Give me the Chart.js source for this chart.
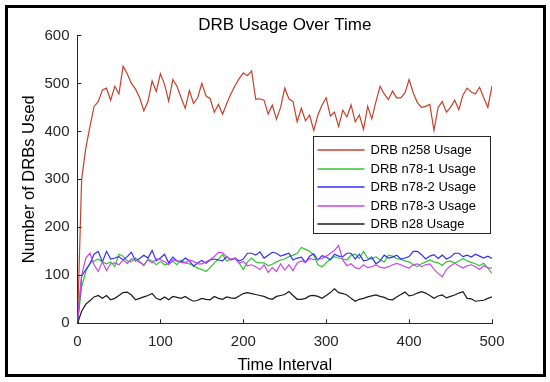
<!DOCTYPE html>
<html>
<head>
<meta charset="utf-8">
<script src="https://cdn.jsdelivr.net/npm/chart.js@4.4.1/dist/chart.umd.min.js"></script>
<style>
  html, body { margin: 0; padding: 0; background: #fff; }
  canvas { display: block; }
</style>
</head>
<body>
<canvas id="mycanvas" width="550" height="382"></canvas>
<script>
// time interval samples (read every 5 steps off the picture)
const timeSteps = [
  0, 5, 10, 15, 20, 25, 30, 35, 40, 45,
  50, 55, 60, 65, 70, 75, 80, 85, 90, 95,
  100, 105, 110, 115, 120, 125, 130, 135, 140, 145,
  150, 155, 160, 165, 170, 175, 180, 185, 190, 195,
  200, 205, 210, 215, 220, 225, 230, 235, 240, 245,
  250, 255, 260, 265, 270, 275, 280, 285, 290, 295,
  300, 305, 310, 315, 320, 325, 330, 335, 340, 345,
  350, 355, 360, 365, 370, 375, 380, 385, 390, 395,
  400, 405, 410, 415, 420, 425, 430, 435, 440, 445,
  450, 455, 460, 465, 470, 475, 480, 485, 490, 495,
  500
];

const n258 = [
  0, 300, 365, 410, 452, 462, 486, 490, 465, 494,
  478, 536, 520, 500, 488, 470, 443, 462, 505, 483,
  520, 498, 463, 508, 494, 470, 448, 485, 458, 470,
  500, 474, 468, 440, 456, 436, 458, 478, 495, 510,
  522, 516, 526, 467, 468, 465, 436, 455, 425, 450,
  490, 468, 462, 420, 448, 422, 434, 402, 434, 455,
  470, 432, 440, 410, 444, 430, 455, 420, 434, 404,
  452, 426, 462, 494, 478, 466, 484, 470, 470, 480,
  508, 480, 460, 450, 452, 456, 402, 450, 462, 440,
  450, 465, 445, 476, 490, 482, 478, 492, 470, 450,
  495
];

const n78_1 = [
  0, 76, 108, 125, 130, 134, 128, 124, 128, 118,
  144, 140, 130, 128, 136, 129, 120, 134, 130, 122,
  129, 122, 124, 129, 122, 132, 126, 124, 120, 115,
  112, 108, 116, 126, 134, 143, 130, 134, 134, 126,
  112, 128, 136, 128, 126, 126, 120, 123, 128, 132,
  134, 139, 142, 146, 158, 154, 150, 142, 122, 118,
  126, 134, 139, 136, 134, 132, 142, 144, 135, 150,
  136, 134, 139, 132, 128, 142, 140, 135, 133, 130,
  128, 122, 118, 124, 128, 132, 128, 126, 121, 128,
  130, 125, 130, 135, 130, 127, 124, 120, 125, 115,
  104
];

const n78_2 = [
  0, 98, 112, 124, 144, 150, 128, 150, 134, 136,
  139, 132, 139, 148, 130, 135, 142, 136, 152, 130,
  136, 144, 126, 138, 130, 128, 136, 130, 119, 126,
  131, 125, 132, 134, 132, 130, 139, 132, 136, 130,
  134, 146, 146, 142, 149, 136, 142, 148, 146, 140,
  143, 146, 132, 136, 138, 127, 140, 145, 132, 141,
  138, 132, 144, 140, 139, 146, 146, 134, 144, 130,
  132, 138, 124, 130, 142, 136, 138, 142, 134, 136,
  139, 150, 150, 143, 134, 140, 143, 135, 142, 134,
  138, 146, 146, 139, 142, 138, 144, 140, 136, 140,
  135
];

const n78_3 = [
  0, 100, 136, 146, 122, 108, 128, 110, 124, 126,
  122, 132, 125, 134, 132, 127, 122, 132, 126, 134,
  133, 128, 122, 132, 130, 127, 126, 132, 129, 124,
  124, 128, 133, 139, 148, 147, 138, 133, 136, 125,
  129, 120, 122, 118, 112, 122, 106, 116, 108, 124,
  111, 122, 110, 126, 130, 127, 135, 133, 133, 135,
  140, 146, 152, 162, 132, 120, 124, 116, 114, 122,
  116, 118, 122, 117, 115, 118, 122, 125, 122, 118,
  115, 122, 124, 118, 122, 124, 113, 104, 97, 112,
  120, 125, 120, 115, 120, 122, 118, 112, 120, 116,
  115
];

const n28 = [
  0, 25, 40, 47, 55, 58, 52, 58, 49, 52,
  58, 64, 65, 59, 49, 52, 55, 58, 62, 52,
  49, 55, 49, 56, 54, 52, 56, 50, 46, 48,
  52, 50, 49, 56, 52, 50, 55, 53, 52, 57,
  62, 64, 62, 60, 58, 56, 52, 50, 56, 58,
  60, 66, 58, 50, 50, 52, 57, 58, 56, 52,
  58, 64, 72, 64, 62, 59, 52, 46, 50, 52,
  55, 57, 59, 56, 54, 50, 49, 55, 60, 65,
  57, 59, 63, 66, 63, 58, 52, 57, 59, 53,
  56, 59, 63, 66, 52, 51, 46, 47, 48, 52,
  55
];

const seriesLabels = ['DRB n258 Usage', 'DRB n78-1 Usage', 'DRB n78-2 Usage', 'DRB n78-3 Usage', 'DRB n28 Usage'];
const seriesValues = [n258, n78_1, n78_2, n78_3, n28];
const seriesColors = ['#c8402a', '#2ec82e', '#2e2eff', '#cc44ee', '#1a1a1a'];

const AXIS_COLOR = '#262626';
const FONT = 'Liberation Sans, Arial, Helvetica, sans-serif';

function toPoints(values) {
  return values.map(function (v, i) { return { x: timeSteps[i], y: v }; });
}

const datasets = seriesValues.map(function (vals, i) {
  return {
    label: seriesLabels[i],
    data: toPoints(vals),
    borderColor: seriesColors[i],
    borderWidth: 1.2,
    pointRadius: 0,
    tension: 0,
    fill: false,
    order: seriesValues.length - i   // later series on top, like matlab
  };
});

// white page + black frame round the figure
const framePlugin = {
  id: 'frame',
  beforeDraw(chart) {
    const c = chart.ctx;
    c.save();
    c.fillStyle = '#fff';
    c.fillRect(0, 0, chart.width, chart.height);
    c.restore();
  },
  afterDraw(chart) {
    const c = chart.ctx;
    c.save();
    c.strokeStyle = '#000';
    c.lineWidth = 3;
    c.strokeRect(6.5, 6.5, 538, 369);
    c.restore();
  }
};

// matlab style ticks pointing into the axes
const innerTicks = {
  id: 'innerTicks',
  afterDatasetsDraw(chart) {
    const c = chart.ctx;
    const xs = chart.scales.x, ys = chart.scales.y;
    const area = chart.chartArea;
    c.save();
    c.strokeStyle = AXIS_COLOR;
    c.lineWidth = 1;
    c.beginPath();
    xs.ticks.forEach(function (t) {
      const px = Math.round(xs.getPixelForValue(t.value)) + 0.5;
      c.moveTo(px, area.bottom);
      c.lineTo(px, area.bottom - 4);
    });
    ys.ticks.forEach(function (t) {
      const py = Math.round(ys.getPixelForValue(t.value)) + 0.5;
      c.moveTo(area.left, py);
      c.lineTo(area.left + 4, py);
    });
    c.stroke();
    c.restore();
  }
};

// legend box inside the axes, upper right
const boxLegend = {
  id: 'boxLegend',
  afterDatasetsDraw(chart) {
    const c = chart.ctx;
    const left = 313.5, top = 136.5, w = 177, h = 97;
    c.save();
    c.fillStyle = '#fff';
    c.fillRect(left, top, w, h);
    c.strokeStyle = AXIS_COLOR;
    c.lineWidth = 1;
    c.strokeRect(left, top, w, h);
    c.font = '13px ' + FONT;
    c.textBaseline = 'middle';
    c.textAlign = 'left';
    chart.data.datasets.forEach(function (ds, i) {
      const y = Math.round(top + 13.5 + i * 18.6);
      c.strokeStyle = ds.borderColor;
      c.lineWidth = 1.5;
      c.beginPath();
      c.moveTo(left + 4, y);
      c.lineTo(left + 51, y);
      c.stroke();
      c.fillStyle = '#000';
      c.fillText(ds.label, left + 57, y);
    });
    c.restore();
  }
};

var ctx = document.getElementById('mycanvas');

var config = {
  type: 'line',
  data: { datasets: datasets },
  options: {
    responsive: false,
    animation: false,
    devicePixelRatio: 1,
    layout: { padding: { left: 20, right: 58, top: 0, bottom: 6 } },
    plugins: {
      legend: { display: false },
      tooltip: { enabled: false },
      title: {
        display: true,
        text: 'DRB Usage Over Time',
        fullSize: false,
        color: '#000',
        font: { family: FONT, size: 17, weight: 'normal' },
        padding: { top: 15, bottom: 0 }
      }
    },
    scales: {
      x: {
        type: 'linear',
        min: 0,
        max: 500,
        ticks: {
          stepSize: 100,
          color: AXIS_COLOR,
          padding: 10,
          maxRotation: 0,
          font: { family: FONT, size: 15 }
        },
        grid: { display: true, drawOnChartArea: false, drawTicks: false },
        border: { display: true, color: AXIS_COLOR, width: 1 },
        title: {
          display: true,
          text: 'Time Interval',
          color: '#000',
          font: { family: FONT, size: 16.5 },
          padding: { top: 0, bottom: 1 }
        },
        afterFit(scale) { scale.height = 382 - 323.3 - 6; }
      },
      y: {
        min: 0,
        max: 600,
        ticks: {
          stepSize: 100,
          color: AXIS_COLOR,
          padding: 8,
          font: { family: FONT, size: 15 }
        },
        grid: { display: true, drawOnChartArea: false, drawTicks: false },
        border: { display: true, color: AXIS_COLOR, width: 1 },
        title: {
          display: true,
          text: 'Number of DRBs Used',
          color: '#000',
          font: { family: FONT, size: 16.5 },
          padding: { top: 0, bottom: 0 }
        },
        afterFit(scale) { scale.width = 57.5; }
      }
    }
  },
  plugins: [framePlugin, innerTicks, boxLegend]
};

var myChart = new Chart(ctx, config);
</script>
</body>
</html>
